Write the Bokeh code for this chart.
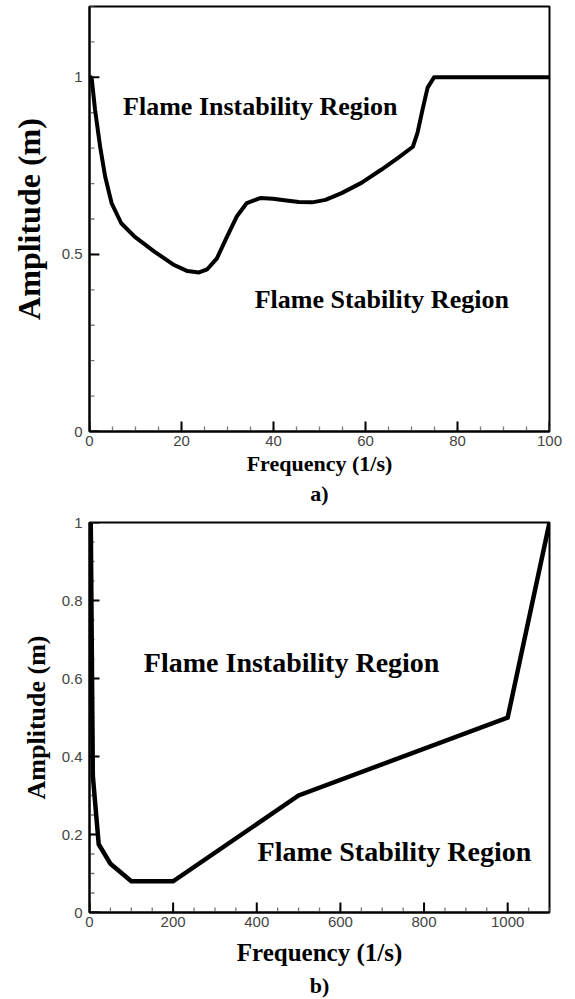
from bokeh.plotting import figure
from bokeh.layouts import column
from bokeh.models import Range1d, FixedTicker, Title
from bokeh.core.properties import value
from bokeh.embed import file_html
from bokeh.resources import INLINE

# (a) stability boundary, frequency 0-100 1/s
freq_a = [0.3, 0.5, 1.2, 2.3, 3.4, 4.8, 6.9, 9.8, 14.1, 18.4, 21.3, 23.8, 25.6,
          27.7, 29.9, 32.0, 34.2, 37.1, 39.9, 42.8, 45.5, 48.4, 51.3, 54.8,
          59.1, 63.4, 67.0, 70.3, 71.3, 72.4, 73.5, 74.9, 100.0]
amp_a = [1.0, 0.994, 0.909, 0.805, 0.72, 0.645, 0.588, 0.55, 0.508, 0.47,
         0.453, 0.449, 0.458, 0.489, 0.55, 0.607, 0.645, 0.659, 0.657, 0.652,
         0.648, 0.647, 0.654, 0.673, 0.702, 0.739, 0.772, 0.804, 0.843,
         0.909, 0.971, 1.0, 1.0]

# (b) stability boundary, frequency 0-1100 1/s
freq_b = [3, 8, 22, 50, 100, 200, 500, 1000, 1100]
amp_b = [1.0, 0.35, 0.175, 0.125, 0.08, 0.08, 0.3, 0.5, 1.0]

# tick positions
xticks_a = [0, 20, 40, 60, 80, 100]
xminor_a = list(range(0, 101, 5))
yticks_a = [0, 0.5, 1.0]
yminor_a = [i / 10 for i in range(0, 13)]
xticks_b = [0, 200, 400, 600, 800, 1000]
xminor_b = list(range(0, 1101, 50))
yticks_b = [0, 0.2, 0.4, 0.6, 0.8, 1.0]
yminor_b = [i / 20 for i in range(0, 21)]

SERIF = "Liberation Serif"
SANS = "Liberation Sans"


def style_axes(p, xlabel_size, ylabel_size):
    p.xgrid.visible = False
    p.ygrid.visible = False
    p.outline_line_color = "black"
    p.outline_line_width = 2
    p.background_fill_color = "white"
    p.border_fill_color = "white"
    for ax in (p.xaxis[0], p.yaxis[0]):
        ax.axis_line_width = 2
        ax.axis_line_color = "black"
        ax.major_tick_in = 0
        ax.major_tick_out = 0
        ax.minor_tick_in = 0
        ax.minor_tick_out = 0
        ax.major_label_text_font = SANS
        ax.major_label_text_font_size = "15px"
        ax.major_label_text_color = "#444444"
        ax.axis_label_text_font = SERIF
        ax.axis_label_text_font_style = "bold"
        ax.axis_label_text_color = "black"
    p.xaxis[0].axis_label = "Frequency (1/s)"
    p.yaxis[0].axis_label = "Amplitude (m)"
    p.xaxis[0].axis_label_text_font_size = xlabel_size
    p.yaxis[0].axis_label_text_font_size = ylabel_size
    p.xaxis[0].major_label_standoff = 4
    p.yaxis[0].major_label_standoff = 7


def inward_ticks(p, xr, yr, frame_w, frame_h, xmajor, xminor, ymajor, yminor):
    # tick marks pointing into the frame from the bottom and left axes;
    # lengths are given in pixels and converted to data units
    dx = (xr.end - xr.start) / frame_w
    dy = (yr.end - yr.start) / frame_h
    x0, y0 = xr.start, yr.start
    p.segment(x0=xminor, y0=[y0] * len(xminor), x1=xminor, y1=[y0 + 5 * dy] * len(xminor),
              line_color="#777777", line_width=1.3)
    p.segment(x0=[x0] * len(yminor), y0=yminor, x1=[x0 + 5 * dx] * len(yminor), y1=yminor,
              line_color="#777777", line_width=1.3)
    p.segment(x0=xmajor, y0=[y0] * len(xmajor), x1=xmajor, y1=[y0 + 10 * dy] * len(xmajor),
              line_color="black", line_width=2)
    p.segment(x0=[x0] * len(ymajor), y0=ymajor, x1=[x0 + 10 * dx] * len(ymajor), y1=ymajor,
              line_color="black", line_width=2)


def region_text(p, x, y, txt, size):
    p.text(x=[x], y=[y], text=[txt], text_font=value(SERIF),
           text_font_style="bold", text_font_size=size, text_color="black",
           text_align="left", text_baseline="alphabetic")


# ---- panel (a) ----
xr_a, yr_a = Range1d(0, 100), Range1d(0, 1.2)
pa = figure(width=575, height=510, x_range=xr_a, y_range=yr_a,
            output_backend="svg", toolbar_location=None,
            min_border_left=85, min_border_right=25, min_border_top=6, min_border_bottom=79)
style_axes(pa, "22px", "32px")
pa.xaxis[0].ticker = FixedTicker(ticks=xticks_a, minor_ticks=xminor_a)
pa.yaxis[0].ticker = FixedTicker(ticks=yticks_a, minor_ticks=yminor_a)
pa.xaxis[0].axis_label_standoff = 2
pa.yaxis[0].axis_label_standoff = 12
inward_ticks(pa, xr_a, yr_a, 465, 425, xticks_a, xminor_a, yticks_a, yminor_a)
pa.line(freq_a, amp_a, line_color="black", line_width=4, line_join="round", line_cap="round")
region_text(pa, 7.3, 0.919, "Flame Instability Region", "26px")
region_text(pa, 35.9, 0.374, "Flame Stability Region", "26px")
pa.add_layout(Title(text="a)", align="center", text_font=SERIF, text_font_style="bold",
                    text_font_size="22px", text_color="black", standoff=0), "below")

# ---- panel (b) ----
xr_b, yr_b = Range1d(0, 1100), Range1d(0, 1)
pb = figure(width=575, height=489, x_range=xr_b, y_range=yr_b,
            output_backend="svg", toolbar_location=None,
            min_border_left=89, min_border_right=26, min_border_top=12, min_border_bottom=87)
style_axes(pb, "25px", "26px")
pb.xaxis[0].ticker = FixedTicker(ticks=xticks_b, minor_ticks=xminor_b)
pb.yaxis[0].ticker = FixedTicker(ticks=yticks_b, minor_ticks=yminor_b)
pb.xaxis[0].axis_label_standoff = 9
pb.yaxis[0].axis_label_standoff = 8
inward_ticks(pb, xr_b, yr_b, 460, 390, xticks_b, xminor_b, yticks_b, yminor_b)
pb.line(freq_b, amp_b, line_color="black", line_width=4.5, line_join="miter")
region_text(pb, 130, 0.642, "Flame Instability Region", "28px")
region_text(pb, 402, 0.156, "Flame Stability Region", "28px")
pb.add_layout(Title(text="b)", align="center", text_font=SERIF, text_font_style="bold",
                    text_font_size="22px", text_color="black", standoff=4), "below")

layout = column(pa, pb, spacing=0)
open("out.html", "w").write(file_html(layout, INLINE))
